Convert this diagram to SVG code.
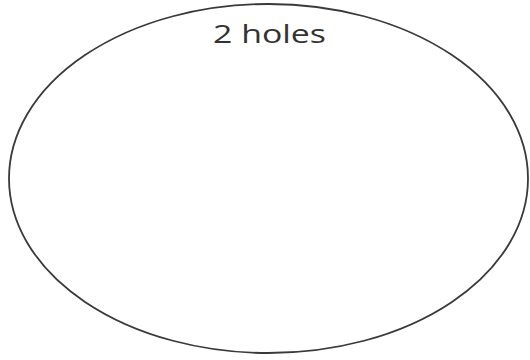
<svg xmlns="http://www.w3.org/2000/svg" width="530" height="360" viewBox="0 0 530 360">
<style>
.shape{fill:none;stroke:#3a3a3a;stroke-width:1.8}
.label{font-family:"Open Sans","DejaVu Sans",sans-serif;font-size:25px;fill:#333}
</style>
<rect width="530" height="360" fill="#fff"/>
<g id="set">
<ellipse class="shape" cx="268.5" cy="178.5" rx="259.5" ry="174.5"/>
<text class="label" x="213" y="43" textLength="113" lengthAdjust="spacingAndGlyphs">2 holes</text>
</g>
</svg>
